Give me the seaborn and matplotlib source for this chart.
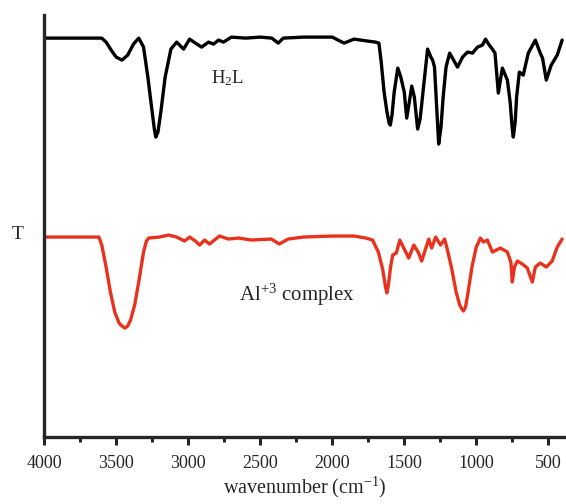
import numpy as np
import pandas as pd
import matplotlib
matplotlib.use("Agg")
import matplotlib.pyplot as plt
from matplotlib.ticker import MultipleLocator
import seaborn as sns

# IR spectra (transmittance in arbitrary units)
wn_ligand = [4000, 3600, 3570, 3530, 3500, 3460, 3420, 3380, 3343, 3310, 3280, 3250, 3235, 3225,
             3210, 3190, 3160, 3120, 3080, 3032, 2990, 2950, 2907, 2859, 2824, 2790, 2755,
             2700, 2600, 2500, 2420, 2375, 2340, 2200, 2100, 2000, 1918, 1849, 1752,
             1700, 1676, 1660, 1640, 1620, 1605, 1597, 1585, 1570, 1545, 1524, 1500, 1483, 1465, 1448, 1430,
             1407, 1390, 1370, 1338, 1315, 1303, 1290, 1275, 1261, 1245, 1230, 1210, 1185, 1130, 1095, 1061,
             1026, 992, 957, 936, 910, 888, 870, 847, 819, 784, 765, 750, 743, 730, 720, 701,
             674, 639, 590, 556, 540, 514, 480, 438, 404]
t_ligand = [399, 399, 395, 386, 380, 377, 382, 393, 399, 390, 360, 325, 308, 300,
            305, 325, 360, 388, 395, 388, 398, 394, 390, 395, 393, 397, 395,
            400, 399, 400, 399, 394, 399, 400, 400, 400, 394, 398, 396,
            395, 394, 375, 345, 325, 314, 312, 322, 345, 369, 360, 345, 319, 335, 351, 340,
            308, 318, 345, 388, 380, 377, 370, 330, 293, 310, 340, 370, 384, 370, 380, 385,
            384, 390, 392, 398, 392, 388, 384, 344, 369, 357, 335, 308, 300, 315, 340, 365,
            362, 384, 397, 384, 379, 357, 372, 382, 397]

wn_complex = [4000, 3620, 3600, 3570, 3540, 3510, 3480, 3460, 3440, 3420, 3400, 3370, 3340, 3310,
              3290, 3274, 3200, 3136, 3080, 3025, 2990, 2950, 2921, 2886, 2852, 2783, 2721, 2650,
              2562, 2423, 2368, 2306, 2200, 2000, 1850, 1766, 1720, 1680, 1650, 1630, 1621,
              1610, 1595, 1580, 1555, 1531, 1500, 1469, 1434, 1400, 1379, 1330, 1310, 1282,
              1248, 1220, 1200, 1170, 1140, 1115, 1100, 1089, 1075, 1060, 1030, 1000, 971, 950,
              923, 888, 833, 784, 760, 750, 735, 715, 680, 646, 611, 590, 556, 514,
              473, 438, 404]
t_complex = [200, 200, 192, 170, 145, 125, 114, 111, 109, 111, 117, 133, 158, 185,
             196, 199, 200, 202, 200, 196, 200, 196, 192, 197, 193, 201, 198, 199,
             197, 198, 193, 198, 200, 201, 201, 199, 197, 185, 168, 150, 144,
             152, 170, 182, 184, 197, 188, 179, 192, 184, 176, 198, 189, 200,
             192, 198, 187, 168, 145, 132, 128, 126, 130, 142, 170, 190, 199, 195,
             197, 185, 189, 185, 175, 155, 170, 176, 173, 169, 155, 170, 174, 170,
             176, 190, 198]

df_ligand = pd.DataFrame({"wavenumber": wn_ligand, "T": t_ligand})
df_complex = pd.DataFrame({"wavenumber": wn_complex, "T": t_complex})

sns.set_style("ticks")
plt.rcParams["font.family"] = ["Liberation Serif", "DejaVu Serif"]
plt.rcParams["mathtext.fontset"] = "custom"
plt.rcParams["mathtext.rm"] = "Liberation Serif"
plt.rcParams["mathtext.it"] = "Liberation Serif:italic"

fig = plt.figure(figsize=(5.66, 5.04), dpi=100)
ax = fig.add_axes([0.078, 0.133, 0.92, 0.837])

sns.lineplot(data=df_ligand, x="wavenumber", y="T", color="black", lw=2.4, ax=ax)
sns.lineplot(data=df_complex, x="wavenumber", y="T", color="#e8321e", lw=2.4, ax=ax)

ax.set_xlim(4000, 385)
ax.set_ylim(0, 422)
ax.xaxis.set_major_locator(MultipleLocator(500))
ax.xaxis.set_minor_locator(MultipleLocator(250))
ax.set_yticks([])
ax.tick_params(axis="x", which="major", length=6, width=2.2, labelsize=13, pad=7)
ax.tick_params(axis="x", which="minor", length=3.5, width=2.2)

for side in ["top", "right"]:
    ax.spines[side].set_visible(False)
for side in ["left", "bottom"]:
    ax.spines[side].set_linewidth(2.4)

ax.set_xlabel("wavenumber (cm$^{\\mathrm{-1}}$)", fontsize=14.5, labelpad=2)
ax.set_ylabel("T", fontsize=14, rotation=0, va="center")
ax.yaxis.set_label_coords(-0.05, 0.48)

ax.text(2724, 359, "H$_{\\mathrm{2}}$L", fontsize=13.5, ha="center", va="center")
ax.text(2243, 142, "Al$^{\\mathrm{+3}}$ complex", fontsize=15, ha="center", va="center")

fig.savefig("out.png", dpi=100)
